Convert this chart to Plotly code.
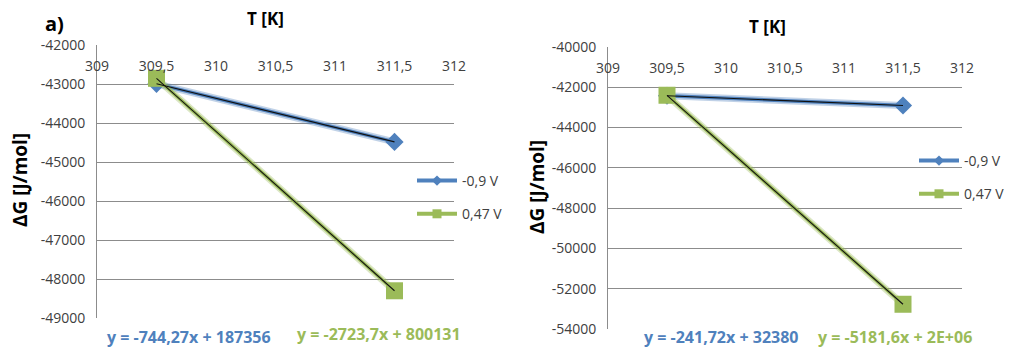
import numpy as np
import plotly.graph_objects as go

# Temperatures [K] and Gibbs energies [J/mol]
temps = [309.5, 311.5]

# panel a)
dg_a_neg = [-42996, -44484]      # -0,9 V
dg_a_pos = [-42854, -48302]      # 0,47 V
eq_a = ["y = -744,27x + 187356", "y = -2723,7x + 800131"]

# panel b)
dg_b_neg = [-42432, -42916]      # -0,9 V
dg_b_pos = [-42410, -52773]      # 0,47 V
eq_b = ["y = -241,72x + 32380", "y = -5181,6x + 2E+06"]

series_names = ["-0,9 V", "0,47 V"]
x_ticks = [309, 309.5, 310, 310.5, 311, 311.5, 312]
y_ticks_a = [-42000, -43000, -44000, -45000, -46000, -47000, -48000, -49000]
y_ticks_b = [-40000, -42000, -44000, -46000, -48000, -50000, -52000, -54000]

BLUE = "#4F81BD"
GREEN = "#9BBB59"
GRID = "#8C8C8C"
TXT = "#404040"
FONT = "Open Sans"

W, H = 1019, 349


def px(x):
    return x / W


def py(y):
    return 1 - y / H


def fmt(v):
    return ("%g" % v).replace(".", ",")


fig = go.Figure()

panels = [
    dict(xa="x", ya="y", neg=dg_a_neg, pos=dg_a_pos, legend="legend"),
    dict(xa="x2", ya="y2", neg=dg_b_neg, pos=dg_b_pos, legend="legend2"),
]

for p in panels:
    for vals, color, sym, size in [(p["neg"], BLUE, "diamond", 14), (p["pos"], GREEN, "square", 17)]:
        # soft halo under the series line
        fig.add_trace(go.Scatter(x=temps, y=vals, mode="lines", xaxis=p["xa"], yaxis=p["ya"],
                                 line=dict(color=color, width=7), opacity=0.35,
                                 showlegend=False, hoverinfo="skip"))
        fig.add_trace(go.Scatter(x=temps, y=vals, mode="lines+markers", xaxis=p["xa"], yaxis=p["ya"],
                                 line=dict(color=color, width=3.5),
                                 marker=dict(symbol=sym, size=size, color=color),
                                 showlegend=False))
    # linear trendlines
    for vals in (p["neg"], p["pos"]):
        k, b = np.polyfit(temps, vals, 1)
        ty = [k * t + b for t in temps]
        fig.add_trace(go.Scatter(x=temps, y=ty, mode="lines", xaxis=p["xa"], yaxis=p["ya"],
                                 line=dict(color="#111111", width=1.1),
                                 showlegend=False, hoverinfo="skip"))
    # legend entries
    for name, color, sym, size in [(series_names[0], BLUE, "diamond", 8), (series_names[1], GREEN, "square", 9)]:
        fig.add_trace(go.Scatter(x=[None], y=[None], mode="lines+markers", name=name,
                                 xaxis=p["xa"], yaxis=p["ya"], legend=p["legend"], legendgroup=p["legend"] + name,
                                 line=dict(color=color, width=4),
                                 marker=dict(symbol=sym, size=size, color=color)))

xdoms = [[px(97), px(454)], [px(608), px(962)]]
ydoms = [[py(318), py(45)], [py(329), py(46.7)]]
yranges = [[-49000, -42000], [-54000, -40000]]
yticks = [y_ticks_a, y_ticks_b]

for i in range(2):
    sfx = "" if i == 0 else str(i + 1)
    fig.layout["xaxis" + sfx] = dict(
        domain=xdoms[i], range=[x_ticks[0], x_ticks[-1]], anchor="free", position=ydoms[i][1],
        side="bottom", showgrid=False, zeroline=False, showline=False, automargin=False,
        tickvals=x_ticks, ticktext=[fmt(t) for t in x_ticks],
        tickfont=dict(family=FONT, size=14, color=TXT), ticklabelstandoff=11)
    fig.layout["yaxis" + sfx] = dict(
        domain=ydoms[i], range=yranges[i], anchor="x" + sfx, showgrid=True, gridcolor=GRID, gridwidth=1,
        zeroline=False, showline=True, linecolor=GRID, linewidth=1, automargin=False,
        tickvals=yticks[i], ticktext=[fmt(t) for t in yticks[i]],
        tickfont=dict(family=FONT, size=14, color=TXT), ticklabelstandoff=8)

legend_common = dict(font=dict(family=FONT, size=14, color=TXT), bgcolor="rgba(0,0,0,0)",
                     xanchor="left", yanchor="top", tracegroupgap=12, itemwidth=40)
fig.update_layout(
    width=W, height=H, margin=dict(l=0, r=0, t=0, b=0, autoexpand=False),
    paper_bgcolor="white", plot_bgcolor="white",
    legend=dict(x=px(412), y=py(165), **legend_common),
    legend2=dict(x=px(914), y=py(145), **legend_common),
)

ann = []
bold = lambda s: "<b>%s</b>" % s
ann.append(dict(x=px(54), y=py(24), text=bold("a)"), font=dict(family=FONT, size=20, color="black")))
ann.append(dict(x=px(265), y=py(18), text=bold("T [K]"), font=dict(family=FONT, size=17, color="black")))
ann.append(dict(x=px(767), y=py(27), text=bold("T [K]"), font=dict(family=FONT, size=17, color="black")))
ann.append(dict(x=px(20), y=py(180), text=bold("ΔG [J/mol]"), textangle=-90, font=dict(family=FONT, size=19, color="black")))
ann.append(dict(x=px(537), y=py(187), text=bold("ΔG [J/mol]"), textangle=-90, font=dict(family=FONT, size=19, color="black")))
ann.append(dict(x=px(189), y=py(337), text=bold(eq_a[0]), font=dict(family=FONT, size=16, color=BLUE)))
ann.append(dict(x=px(379), y=py(334), text=bold(eq_a[1]), font=dict(family=FONT, size=16, color=GREEN)))
ann.append(dict(x=px(721), y=py(337), text=bold(eq_b[0]), font=dict(family=FONT, size=16, color=BLUE)))
ann.append(dict(x=px(895), y=py(337), text=bold(eq_b[1]), font=dict(family=FONT, size=16, color=GREEN)))
for a in ann:
    a.update(xref="paper", yref="paper", showarrow=False, xanchor="center", yanchor="middle")
fig.update_layout(annotations=ann)

fig.write_html("out.html")
